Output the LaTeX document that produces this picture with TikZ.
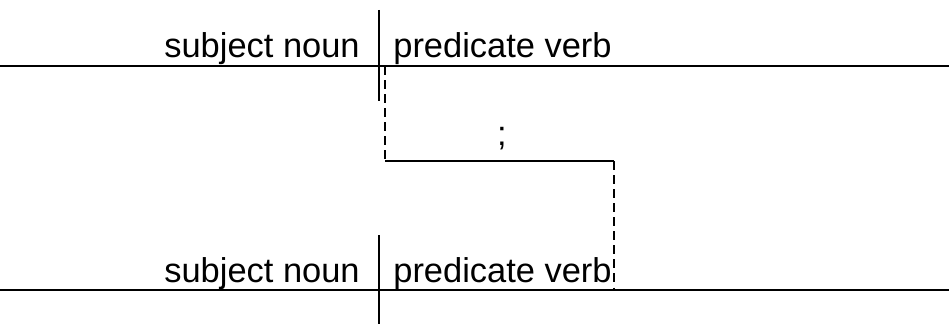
\documentclass[tikz,border=0pt]{standalone}
\usepackage{fontspec}
\setmainfont{Liberation Sans}
\usetikzlibrary{positioning}
\tikzset{>=stealth}
\tikzset{baseline/.style={line width=1.3pt},
	divider/.style={line width=1.3pt},
	connector/.style={line width=1.3pt,dash pattern=on 5pt off 3pt},
	word/.style={inner sep=0pt,font=\fontsize{19.6}{22}\selectfont}}

\begin{document}
\begin{tikzpicture}[x=0.02cm,y=-0.02cm]
	\useasboundingbox (0,0) rectangle (949,324);
	% first clause
	\coordinate (topL) at (0,66);
	\coordinate (topR) at (949,66);
	\coordinate (topU) at (379,10);
	\coordinate (topD) at (379,101);
	\node[word,anchor=base east] (subj1) at (360,58) {subject noun};
	\node[word,anchor=base west] (pred1) at (393,58) {predicate verb};
	\draw[baseline] (topL) -- (topR);
	\draw[divider] (topU) -- (topD);
	% second clause
	\coordinate (botL) at (0,290);
	\coordinate (botR) at (949,290);
	\coordinate (botU) at (379,235);
	\coordinate (botD) at (379,324);
	\node[word,anchor=base east] (subj2) at (360,282) {subject noun};
	\node[word,anchor=base west] (pred2) at (393,282) {predicate verb};
	\draw[baseline] (botL) -- (botR);
	\draw[divider] (botU) -- (botD);
	% semicolon link
	\coordinate (linkA) at (385,66);
	\coordinate (linkB) at (385,161);
	\coordinate (linkC) at (614,161);
	\coordinate (linkD) at (614,290);
	\node[word,anchor=base] (semi) at (502,146) {;};
	\draw[connector] (linkA) -- (linkB);
	\draw[baseline] (linkB) -- (linkC);
	\draw[connector] (linkC) -- (linkD);
\end{tikzpicture}
\end{document}
